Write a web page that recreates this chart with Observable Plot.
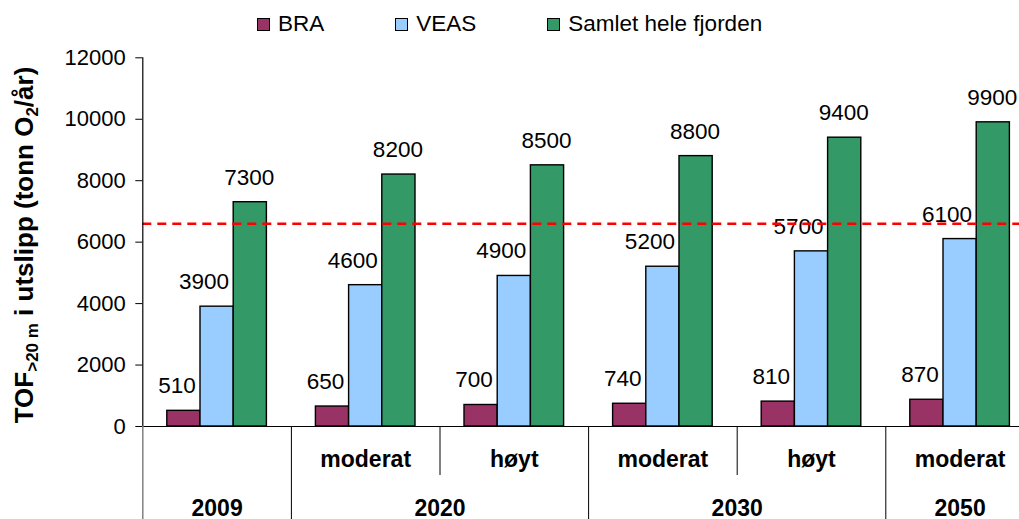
<!DOCTYPE html>
<html>
<head>
<meta charset="utf-8">
<script src="https://cdn.jsdelivr.net/npm/d3@7"></script>
<script src="https://cdn.jsdelivr.net/npm/@observablehq/plot@0.6"></script>
<style>
  html, body { margin: 0; padding: 0; background: #fff; }
  body { width: 1019px; font-family: "Liberation Sans", Arial, sans-serif; color: #000; }
  #legend { height: 45px; box-sizing: border-box; padding: 3px 0 0 257px; display: flex; align-items: center; }
  .item { display: flex; align-items: center; margin-right: 71px; }
  .sw { width: 11px; height: 11px; border: 1px solid #000; margin-right: 8px; }
  .lb { font-size: 22.5px; line-height: 22px; white-space: nowrap; }
  #chart svg { display: block; }
</style>
</head>
<body>
<div id="legend"></div>
<div id="chart"></div>
<script>
// ---- data ----
const years     = ["2009", "2020", "2020", "2030", "2030", "2050"];
const scenarios = ["", "moderat", "høyt", "moderat", "høyt", "moderat"];
const seriesNames = ["BRA", "VEAS", "Samlet hele fjorden"];
const bra    = [510, 650, 700, 740, 810, 870];
const veas   = [3900, 4600, 4900, 5200, 5700, 6100];
const samlet = [7300, 8200, 8500, 8800, 9400, 9900];
const threshold = 6600;
const yTicks = [0, 2000, 4000, 6000, 8000, 10000, 12000];
const yLabelParts = [["TOF", false], [">20 m", true], [" i utslipp (tonn O", false], ["2", true], ["/år)", false]];

// ---- styles ----
const colors = ["#993366", "#99CCFF", "#339966"];
const labelDx = [-7, -13, -1];
const BAR = 0.2234;              // bar width as a fraction of one category slot
const PAD = (1 - 3 * BAR) / 2;   // outer padding of a group

// ---- tables built from the arrays ----
const seriesValues = [bra, veas, samlet];
const rows = [];
years.forEach((y, ci) => seriesValues.forEach((vals, si) => rows.push({ci, si, series: seriesNames[si], value: vals[ci]})));
const cats = years.map((y, i) => ({i, year: y, sub: scenarios[i]}));
const groups = [];
years.forEach((y, i) => {
  const g = groups[groups.length - 1];
  if (g && g.year === y) g.end = i + 1; else groups.push({year: y, start: i, end: i + 1});
});
const bounds = [];
for (let i = 0; i <= years.length; i++) {
  const long = i === 0 || i === years.length || years[i] !== years[i - 1];
  bounds.push({pos: i, long, first: i === 0});
}

// ---- legend ----
const legend = d3.select("#legend");
seriesNames.forEach((n, i) => {
  const it = legend.append("div").attr("class", "item");
  it.append("div").attr("class", "sw").style("background", colors[i]);
  it.append("span").attr("class", "lb").text(n);
});

// ---- chart ----
const H = 474;
const chart = Plot.plot({
  width: 1019,
  height: H,
  marginLeft: 142.3,
  marginRight: 0,
  marginTop: 12.3,
  marginBottom: 93,
  style: {fontFamily: '"Liberation Sans", Arial, sans-serif', fontSize: "22px", color: "#000", background: "#fff"},
  x: {domain: [0, years.length], range: [142.3, 1033.9], axis: null},
  y: {domain: [0, 12000], ticks: yTicks, tickSize: 7, tickPadding: 10, tickFormat: d3.format("d"), label: null},
  color: {domain: seriesNames, range: colors},
  marks: [
    Plot.rect(rows, {
      x1: d => d.ci + PAD + d.si * BAR,
      x2: d => d.ci + PAD + (d.si + 1) * BAR,
      y1: 0, y2: "value",
      fill: "series", stroke: "#000", strokeWidth: 1.4
    }),
    ...seriesNames.map((n, s) => Plot.text(rows.filter(d => d.si === s), {
      x: d => d.ci + PAD + (d.si + 0.5) * BAR,
      y: "value",
      text: d => String(d.value),
      lineAnchor: "bottom", dy: -17.5, dx: labelDx[s], fill: "#000", fontSize: 22.5
    })),
    Plot.ruleY([threshold], {stroke: "#FF0000", strokeWidth: 2.5, strokeDasharray: "9,6"}),
    Plot.ruleY([0], {stroke: "#000", strokeWidth: 1.2}),
    Plot.ruleX([0], {stroke: "#000", strokeWidth: 1.2}),
    // category table below the axis
    Plot.ruleX(bounds.filter(b => b.long && !b.first), {x: "pos", y1: 0, y2: 0, insetBottom: -93, stroke: "#000", strokeWidth: 1}),
    Plot.ruleX(bounds.filter(b => b.first), {x: "pos", y1: 0, y2: 0, insetBottom: -93, stroke: "#808080", strokeWidth: 1.5}),
    Plot.ruleX(bounds.filter(b => !b.long), {x: "pos", y1: 0, y2: 0, insetBottom: -49, stroke: "#000", strokeWidth: 1}),
    Plot.text(cats, {x: d => d.i + 0.5, text: "sub", frameAnchor: "bottom", lineAnchor: "bottom", dy: 40, fontWeight: "bold", fontSize: 23, fill: "#000"}),
    Plot.text(groups, {x: d => (d.start + d.end) / 2, text: "year", frameAnchor: "bottom", lineAnchor: "bottom", dy: 89, fontWeight: "bold", fontSize: 23, fill: "#000"})
  ]
});
document.getElementById("chart").appendChild(chart);

// ---- y-axis title with subscripts ----
const title = d3.select(chart).append("text")
  .attr("transform", "translate(33,200) rotate(-90)")
  .attr("text-anchor", "middle")
  .attr("font-weight", "bold")
  .attr("font-size", 26)
  .attr("fill", "#000");
yLabelParts.forEach(([t, sub], k) => {
  const prevSub = k > 0 && yLabelParts[k - 1][1];
  title.append("tspan")
    .attr("font-size", sub ? 17 : 26)
    .attr("dy", sub ? 5 : (prevSub ? -5 : 0))
    .text(t);
});
</script>
</body>
</html>
